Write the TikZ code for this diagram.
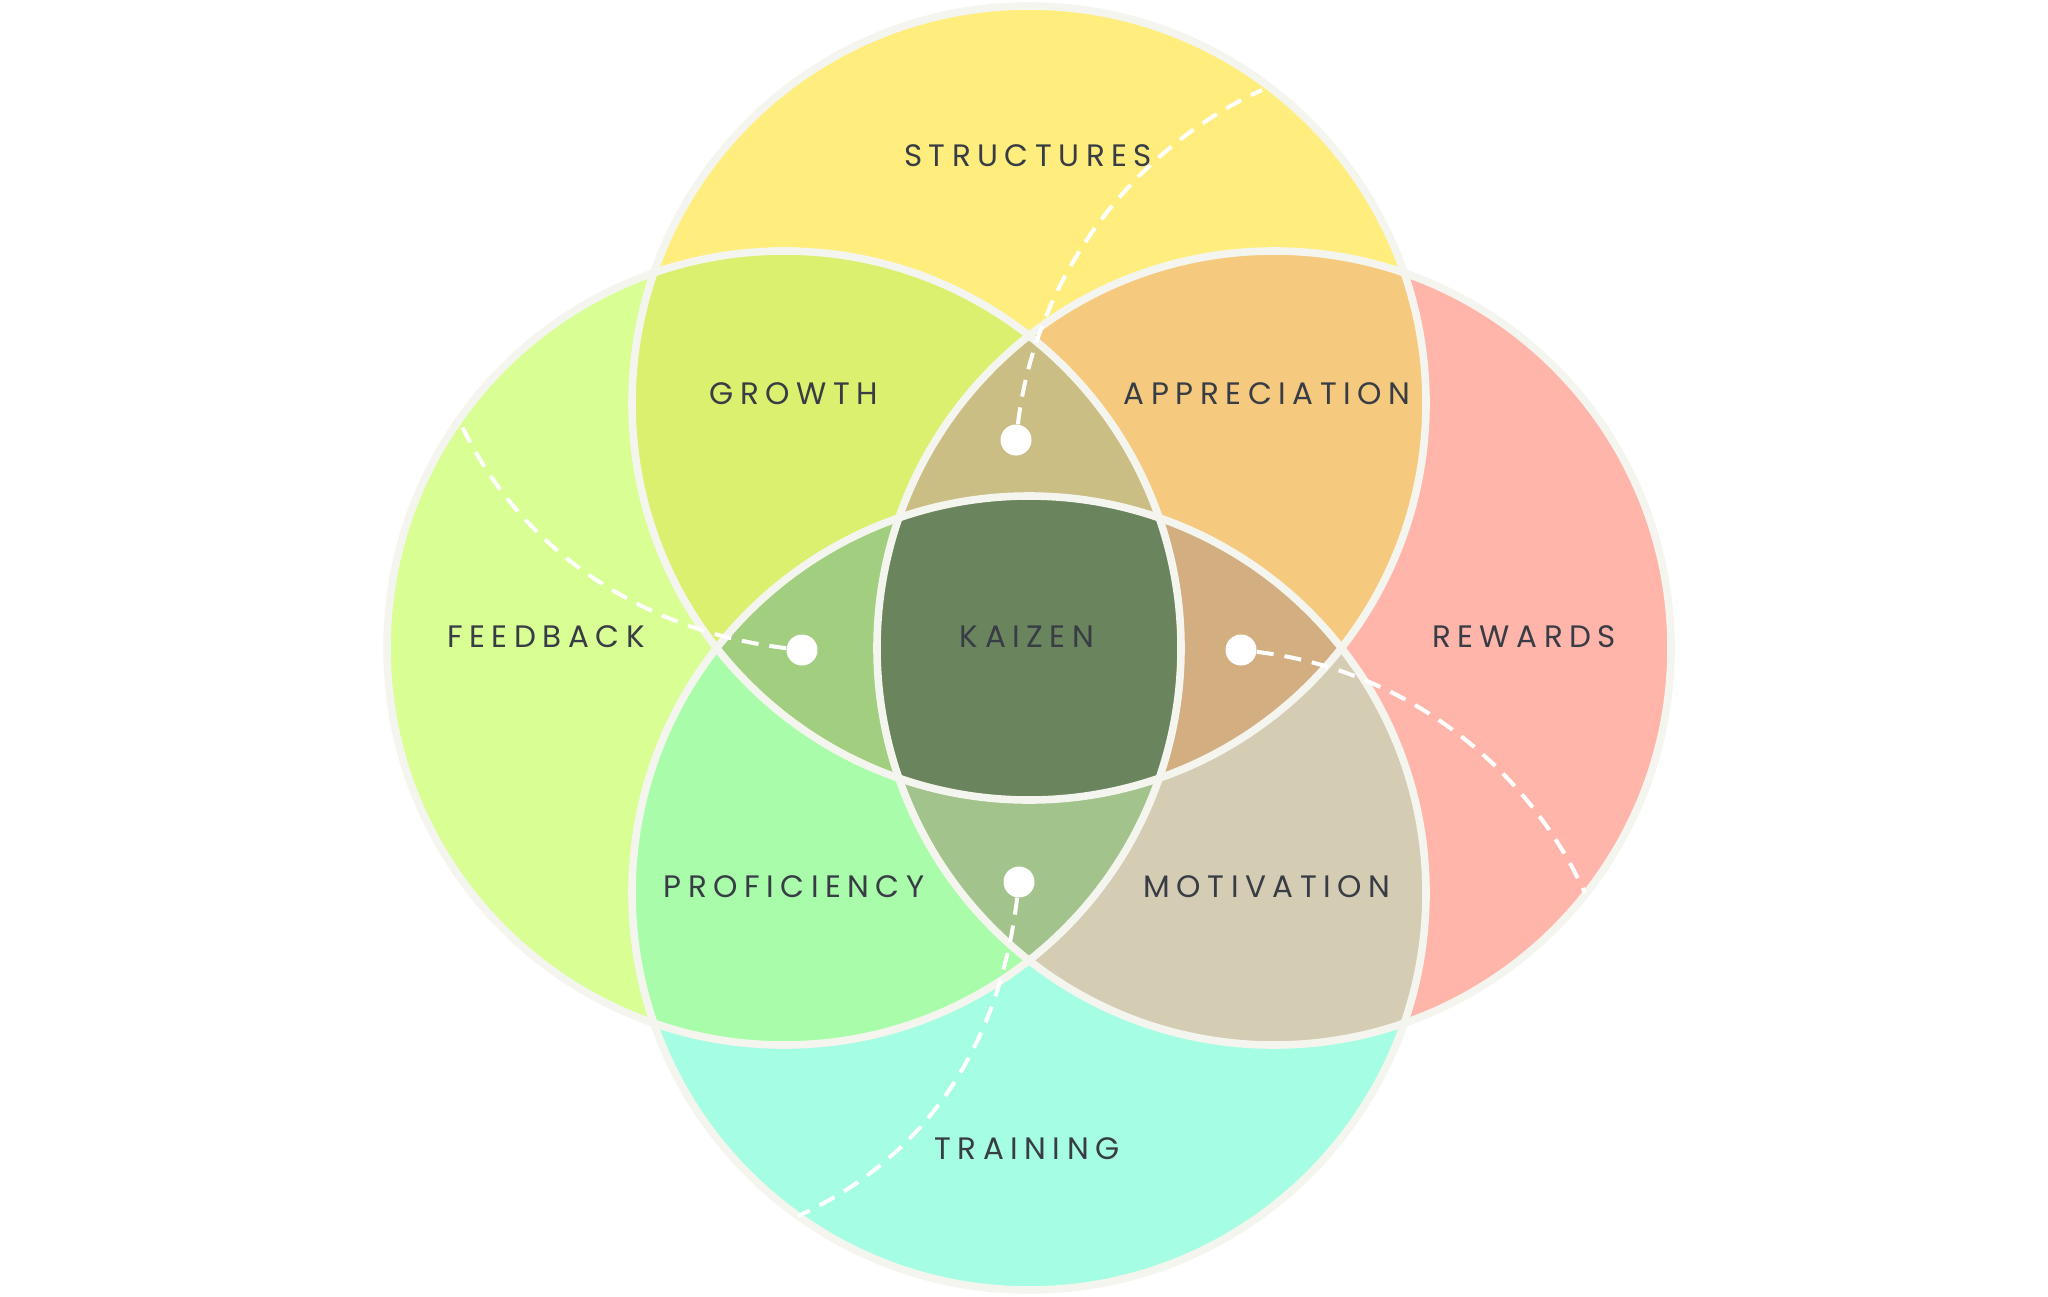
\documentclass[tikz,border=0pt]{standalone}
\usepackage{fontspec}
\newfontfamily\lblfont[LetterSpace=21]{Poppins}
\definecolor{ringc}{HTML}{F5F5EF}
\definecolor{txtc}{HTML}{383D45}
\definecolor{cStruct}{HTML}{FFEE7D}
\definecolor{cFeed}{HTML}{D9FE94}
\definecolor{cReward}{HTML}{FFB5AA}
\definecolor{cTrain}{HTML}{A5FDE3}
\definecolor{cGrowth}{HTML}{DAF06E}
\definecolor{cApprec}{HTML}{F6CA7E}
\definecolor{cProf}{HTML}{A9FDAA}
\definecolor{cMotiv}{HTML}{D5CCB4}
\definecolor{cTop}{HTML}{CBBE85}
\definecolor{cLeft}{HTML}{A2CE80}
\definecolor{cRight}{HTML}{D3AE80}
\definecolor{cBottom}{HTML}{A2C38B}
\definecolor{cKaizen}{HTML}{6A845D}
\begin{document}
\begin{tikzpicture}[x=0.5pt,y=-0.5pt,
  ring/.style={draw=ringc, line width=3.8pt},
  lbl/.style={text=txtc, font=\lblfont\fontsize{15.5}{18}\selectfont, inner sep=0pt},
  dotnode/.style={circle, fill=white, minimum size=15.5pt, inner sep=0pt},
  link/.style={draw=white, line width=2pt, dash pattern=on 8.5pt off 5.5pt}]
\useasboundingbox[fill=white] (0,0) rectangle (2048,1296);
\def\R{397}
\coordinate (cN) at (1029,403);
\coordinate (cS) at (1029,893);
\coordinate (cW) at (784,648);
\coordinate (cE) at (1274,648);
% single regions
\fill[cStruct] (cN) circle[radius=\R];
\fill[cFeed] (cW) circle[radius=\R];
\fill[cReward] (cE) circle[radius=\R];
\fill[cTrain] (cS) circle[radius=\R];
% pairs
\begin{scope}
  \clip (cN) circle[radius=\R];
  \fill[cGrowth] (cW) circle[radius=\R];
  \fill[cApprec] (cE) circle[radius=\R];
\end{scope}
\begin{scope}
  \clip (cS) circle[radius=\R];
  \fill[cProf] (cW) circle[radius=\R];
  \fill[cMotiv] (cE) circle[radius=\R];
\end{scope}
% triples
\begin{scope}
  \clip (cN) circle[radius=\R];
  \clip (cW) circle[radius=\R];
  \fill[cTop] (cE) circle[radius=\R];
\end{scope}
\begin{scope}
  \clip (cN) circle[radius=\R];
  \clip (cW) circle[radius=\R];
  \fill[cLeft] (cS) circle[radius=\R];
\end{scope}
\begin{scope}
  \clip (cN) circle[radius=\R];
  \clip (cE) circle[radius=\R];
  \fill[cRight] (cS) circle[radius=\R];
\end{scope}
\begin{scope}
  \clip (cS) circle[radius=\R];
  \clip (cW) circle[radius=\R];
  \fill[cBottom] (cE) circle[radius=\R];
\end{scope}
% all four
\begin{scope}
  \clip (cN) circle[radius=\R];
  \clip (cS) circle[radius=\R];
  \clip (cW) circle[radius=\R];
  \fill[cKaizen] (cE) circle[radius=\R];
\end{scope}
% outlines
\draw[ring] (cN) circle[radius=\R];
\draw[ring] (cW) circle[radius=\R];
\draw[ring] (cE) circle[radius=\R];
\draw[ring] (cS) circle[radius=\R];
% labels
\node[lbl] (structures) at (1028,156) {STRUCTURES};
\node[lbl] (growth) at (794,394) {GROWTH};
\node[lbl] (appreciation) at (1267,394) {APPRECIATION};
\node[lbl] (feedback) at (546,637) {FEEDBACK};
\node[lbl] (kaizen) at (1027,637) {KAIZEN};
\node[lbl] (rewards) at (1524,637) {REWARDS};
\node[lbl] (proficiency) at (794,887) {PROFICIENCY};
\node[lbl] (motivation) at (1267,887) {MOTIVATION};
\node[lbl] (training) at (1027,1149) {TRAINING};
% dots and dashed links
\node[dotnode] (dT) at (1016,440) {};
\node[dotnode] (dL) at (802,650) {};
\node[dotnode] (dR) at (1241,650) {};
\node[dotnode] (dB) at (1019,882) {};
\coordinate (eT) at (1262,90);
\coordinate (eL) at (459,420);
\coordinate (eR) at (1585,893);
\coordinate (eB) at (798,1216);
\draw[link] (dT) .. controls (1035,280) and (1130,150) .. (eT);
\draw[link] (dL) .. controls (642,631) and (519,550) .. (eL);
\draw[link] (dR) .. controls (1401,669) and (1525,762) .. (eR);
\draw[link] (dB) .. controls (1000,1042) and (929,1156) .. (eB);
\end{tikzpicture}
\end{document}
